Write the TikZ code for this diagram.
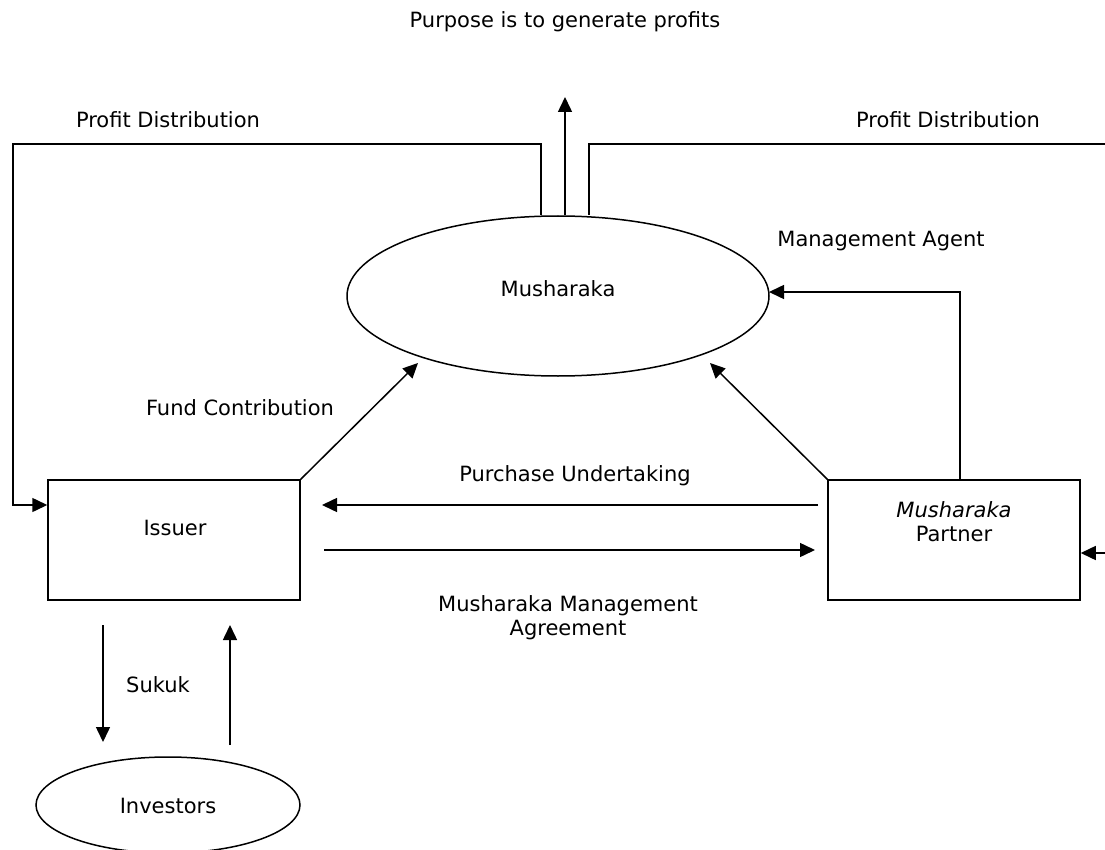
\documentclass[tikz,border=0pt]{standalone}
\usepackage{fontspec}
\setmainfont{DejaVu Sans}
\usetikzlibrary{arrows.meta,shapes.geometric}
\begin{document}
\begin{tikzpicture}[x=1pt,y=-1pt,
  lbl/.style={font=\fontsize{21}{24}\selectfont, inner sep=0pt, align=center},
  ln/.style={line width=1.5pt},
  arr/.style={ln, -{Triangle[length=15pt,width=14pt]}},
  oval/.style={ellipse, draw, line width=1.5pt, inner sep=0pt},
  boxn/.style={draw, line width=1.5pt, minimum width=252pt, minimum height=120pt, inner sep=0pt}]
\useasboundingbox (0,0) rectangle (1105,850);
\clip (0,0) rectangle (1105,850);
% nodes
\node[lbl] (title) at (565,22) {Purpose is to generate profits};
\node[oval, minimum width=422pt, minimum height=160pt] (mush) at (558,296) {};
\node[lbl] (mushlbl) at (558,289) {Musharaka};
\node[boxn] (issuer) at (174,540) {};
\node[lbl] (issuerlbl) at (175,528) {Issuer};
\node[boxn] (partner) at (954,540) {};
\node[lbl] (partnerlbl) at (954,522) {\textit{Musharaka}\\Partner};
\node[oval, minimum width=264pt, minimum height=96pt] (inv) at (168,805) {};
\node[lbl] (invlbl) at (168,806) {Investors};
% labels
\node[lbl] (pdl) at (168,120) {Profit Distribution};
\node[lbl] (pdr) at (948,120) {Profit Distribution};
\node[lbl] (ma) at (881,241) {Management Agent};
\node[lbl] (fc) at (240,408) {Fund Contribution};
\node[lbl] (pu) at (575,476) {Purchase Undertaking};
\node[lbl] (mma) at (568,618) {Musharaka Management\\Agreement};
\node[lbl] (sk) at (158,685) {Sukuk};
% coordinates
\coordinate (top) at (565,97);
\coordinate (rt) at (1130,144);
\coordinate (rb) at (1130,553);
% connectors
\draw[arr] (top |- mush.north) -- (top);
\draw[arr] (mush.north -| 541,0) -- (541,144) -- (13,144) -- (13,505) -- (issuer.west |- 0,505);
\draw[ln] (mush.north -| 589,0) -- (589,144) -- (rt);
\draw[arr] (rt) -- (rb) -- (partner.east |- rb);
\draw[arr] (partner.north -| 960,0) -- (960,292) -- (769,292);
\draw[arr] (issuer.north east) -- (418,363);
\draw[arr] (partner.north west) -- (710,363);
\draw[arr] (818,505) -- (322,505);
\draw[arr] (324,550) -- (815,550);
\draw[arr] (103,625) -- (103,742);
\draw[arr] (230,745) -- (230,625);
\end{tikzpicture}
\end{document}
